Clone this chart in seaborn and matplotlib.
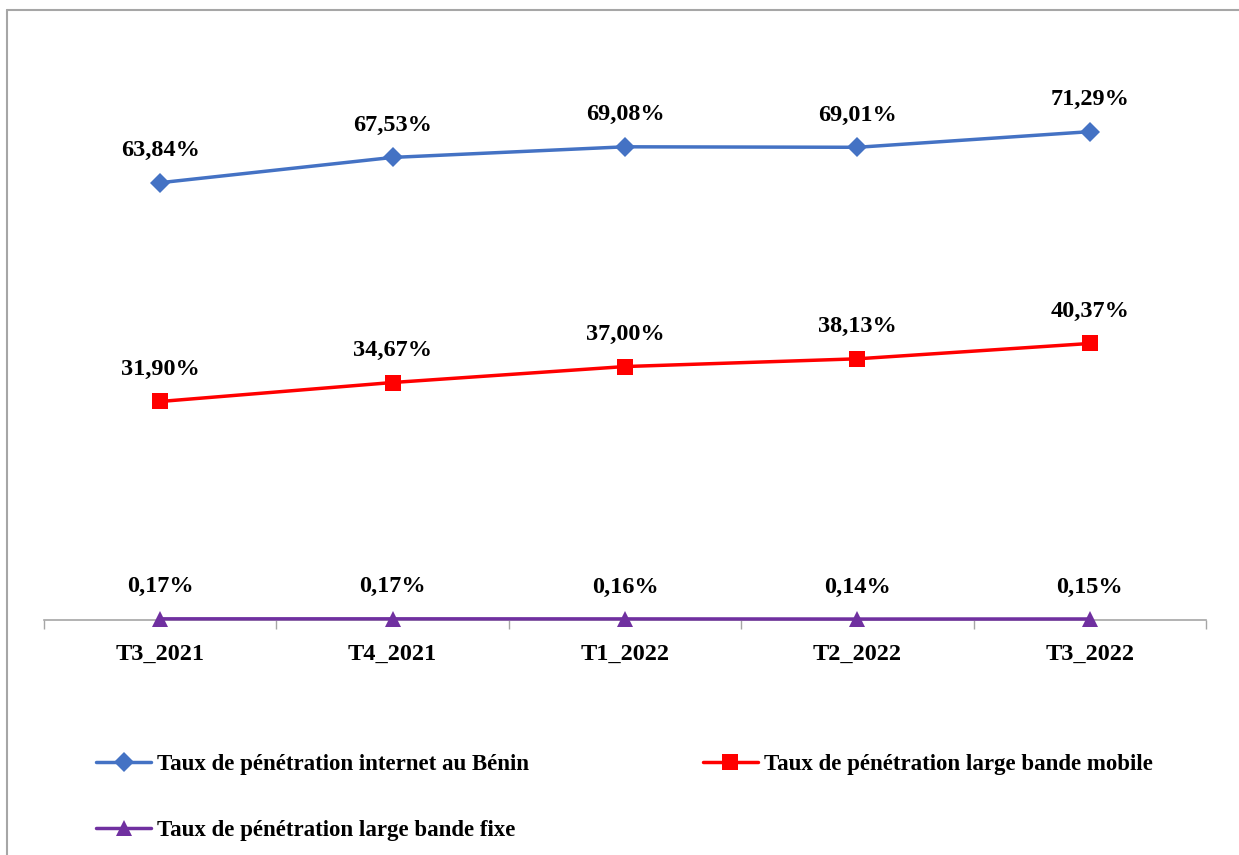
import numpy as np
import pandas as pd
import matplotlib.pyplot as plt
import seaborn as sns
from matplotlib.lines import Line2D

quarters = ['T3_2021', 'T4_2021', 'T1_2022', 'T2_2022', 'T3_2022']
internet = [63.84, 67.53, 69.08, 69.01, 71.29]
mobile = [31.90, 34.67, 37.00, 38.13, 40.37]
fixe = [0.17, 0.17, 0.16, 0.14, 0.15]

series_names = ['Taux de pénétration internet au Bénin',
                'Taux de pénétration large bande mobile',
                'Taux de pénétration large bande fixe']
colors = ['#4472C4', '#FF0000', '#7030A0']
markers = ['D', 's', '^']
msizes = [10, 12, 12]

sns.set_style('white')
plt.rcParams['font.family'] = ['Liberation Serif', 'DejaVu Serif']
plt.rcParams['font.weight'] = 'bold'
plt.rcParams['text.color'] = 'black'
plt.rcParams['xtick.color'] = 'black'

fig = plt.figure(figsize=(12.39, 8.55), dpi=100)
ax = fig.add_axes([44/1239, 235/855, 1162/1239, 548/855])

pos = np.arange(len(quarters))
handles = []
for vals, name, c, m, ms in zip([internet, mobile, fixe], series_names, colors, markers, msizes):
    df = pd.DataFrame({'x': pos, 'y': vals})
    sns.lineplot(data=df, x='x', y='y', ax=ax, color=c, linewidth=2.5,
                 marker=m, markersize=ms, markeredgewidth=0, zorder=3, clip_on=False)
    for xi, v in zip(pos, vals):
        ax.annotate(f"{v:.2f}%".replace('.', ','), (xi, v), xytext=(0, 23),
                    textcoords='offset points', ha='center', va='center',
                    fontsize=17.5, fontweight='bold', color='black')
    handles.append(Line2D([], [], color=c, linewidth=2.5, marker=m,
                          markersize=ms, markeredgewidth=0))

ax.set_xlim(-0.5, len(quarters) - 0.5)
ax.set_ylim(0, 80)
ax.set_xticks(pos)
ax.set_xticklabels(quarters, fontsize=17.5, fontweight='bold', color='black')
ax.set_xticks(np.arange(-0.5, len(quarters)), minor=True)
ax.tick_params(axis='x', which='major', bottom=False, length=0, pad=17)
ax.tick_params(axis='x', which='minor', bottom=True, length=6.5, width=1,
               color='#A6A6A6', direction='out')
ax.set_yticks([])
ax.set_xlabel('')
ax.set_ylabel('')
for s in ['top', 'right', 'left']:
    ax.spines[s].set_visible(False)
ax.spines['bottom'].set_color('#A6A6A6')
ax.spines['bottom'].set_linewidth(1.2)
ax.spines['bottom'].set_zorder(1)

# legend filled column by column: internet, fixe | mobile
order = [0, 2, 1]
leg = fig.legend([handles[i] for i in order], [series_names[i] for i in order],
                 ncol=2, loc='upper left',
                 bbox_to_anchor=(96/1239, 1 - 754/855), frameon=False,
                 prop={'family': 'Liberation Serif', 'weight': 'bold', 'size': 16.5},
                 handlelength=2.4, handletextpad=0.25, columnspacing=7.6,
                 labelspacing=1.95, borderpad=0, borderaxespad=0)
for t in leg.get_texts():
    t.set_color('black')

# chart border (top and left visible)
fig.add_artist(Line2D([7/1239, 7/1239], [0, 1 - 10/855], color='#A6A6A6', linewidth=1.5))
fig.add_artist(Line2D([7/1239, 1], [1 - 10/855, 1 - 10/855], color='#A6A6A6', linewidth=1.5))

fig.savefig('out.png', dpi=100)
